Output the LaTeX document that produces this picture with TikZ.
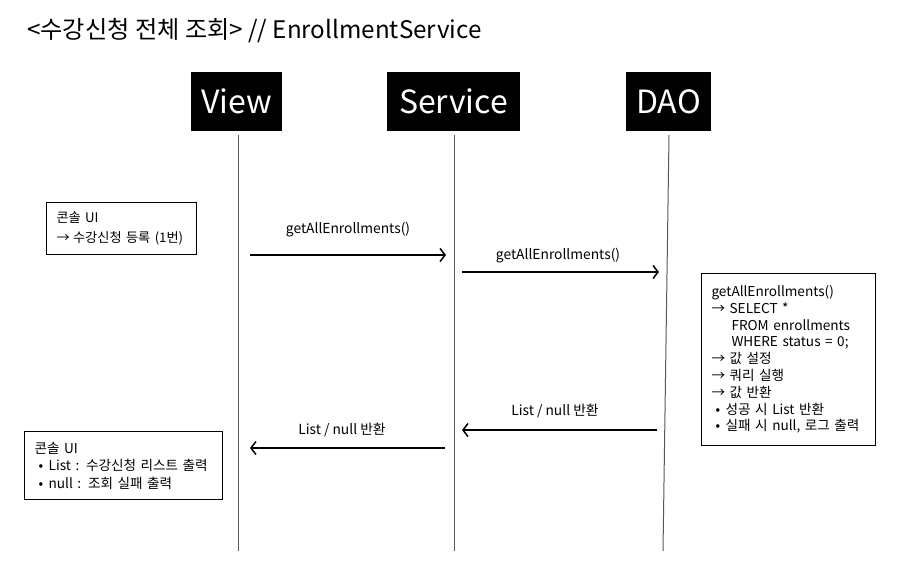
\documentclass[tikz,border=0pt]{standalone}
\usepackage{fontspec}
\setmainfont{Noto Sans CJK KR}
\usetikzlibrary{arrows.meta}
\begin{document}
\begin{tikzpicture}[x=1pt,y=-1pt,
  head/.style={fill=black, text=white, font=\fontsize{32}{36}\selectfont, inner sep=0pt, minimum height=59pt},
  lifeline/.style={draw=black!65, line width=1pt},
  msg/.style={line width=1.5pt, -{Straight Barb[length=5pt,width=13pt,line width=1.5pt]}},
  lbl/.style={font=\fontsize{13.8}{16}\selectfont, inner sep=0pt},
  note/.style={draw, line width=1pt, align=left, inner xsep=10pt, inner ysep=0pt, anchor=north west}
]
\useasboundingbox[fill=white] (0,0) rectangle (905,582);

\node[font=\fontsize{24.2}{28}\selectfont, anchor=west, inner sep=0pt] (title) at (27,31) {<수강신청 전체 조회> // EnrollmentService};

\node[head, minimum width=91pt] (view) at (236.5,101.5) {View};
\node[head, minimum width=133pt] (service) at (453.5,101.5) {Service};
\node[head, minimum width=85pt] (dao) at (668.5,101.5) {DAO};

\coordinate (vtop) at (238,135); \coordinate (vbot) at (238,551);
\coordinate (stop) at (454,135); \coordinate (sbot) at (454,551);
\coordinate (dtop) at (669,135); \coordinate (dbot) at (663,551);
\draw[lifeline] (vtop) -- (vbot);
\draw[lifeline] (stop) -- (sbot);
\draw[lifeline] (dtop) -- (dbot);

% notes
\node[note, minimum width=150pt, minimum height=52pt, text width=130pt,
  font=\fontsize{13.2}{20}\selectfont] (ui1) at (46,202)
  {콘솔 UI\\→\hspace{-1pt} 수강신청 등록 (1번)};

\node[note, minimum width=174pt, minimum height=172pt, text width=154pt,
  font=\fontsize{13.6}{16.8}\selectfont] (daonote) at (701,273)
  {getAllEnrollments()\\
   → SELECT *\\
   \hspace*{20pt}FROM enrollments\\
   \hspace*{20pt}WHERE status = 0;\\
   → 값 설정\\
   → 쿼리 실행\\
   → 값 반환\\
   \hspace*{4pt}• \hspace{1pt}성공 시 List 반환\\
   \hspace*{4pt}• \hspace{1pt}실패 시 null, 로그 출력};

\node[note, minimum width=198pt, minimum height=68pt, text width=178pt,
  font=\fontsize{13.6}{17.5}\selectfont] (ui2) at (24,431)
  {콘솔 UI\\
   \hspace*{4pt}• \hspace{1pt}List : 수강신청 리스트 출력\\
   \hspace*{4pt}• \hspace{1pt}null : 조회 실패 출력};

% messages
\coordinate (m1s) at (250,255); \coordinate (m1e) at (446,255);
\coordinate (m2s) at (462,272); \coordinate (m2e) at (659,272);
\coordinate (m3s) at (657,430); \coordinate (m3e) at (462,430);
\coordinate (m4s) at (445,448); \coordinate (m4e) at (250,448);
\draw[msg] (m1s) -- (m1e);
\draw[msg] (m2s) -- (m2e);
\draw[msg] (m3s) -- (m3e);
\draw[msg] (m4s) -- (m4e);

\node[lbl] (l1) at (348,230) {getAllEnrollments()};
\node[lbl] (l2) at (558,256) {getAllEnrollments()};
\node[lbl] (l3) at (555,411) {List / null 반환};
\node[lbl] (l4) at (342,430) {List / null 반환};
\end{tikzpicture}
\end{document}
